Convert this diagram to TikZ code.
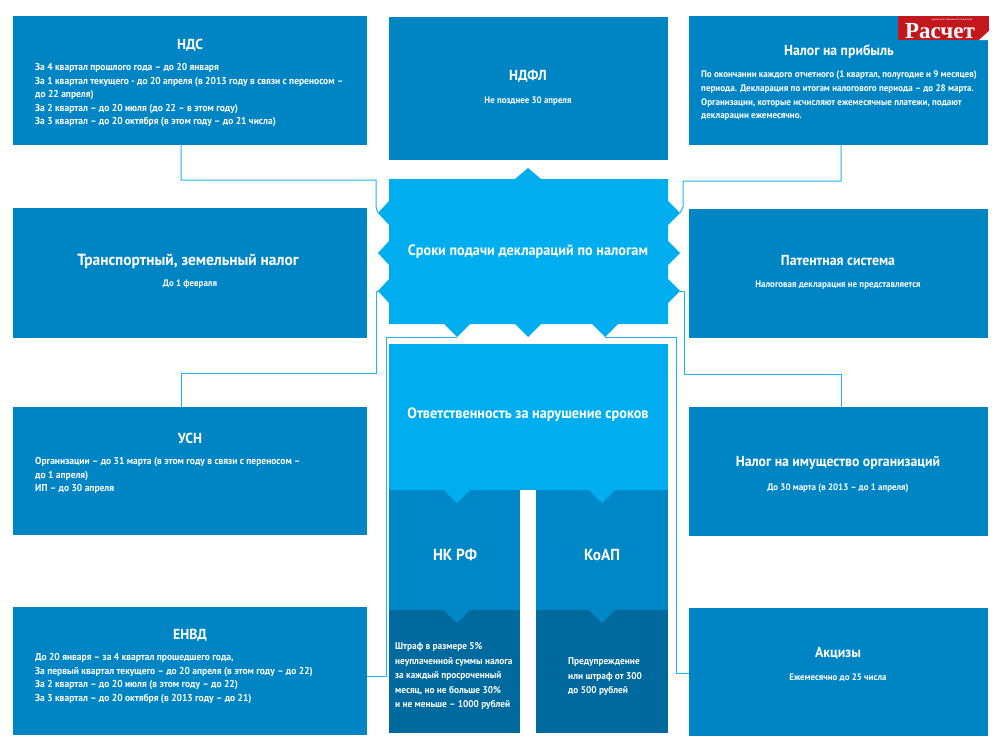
\documentclass[tikz,border=0pt]{standalone}
\usepackage{fontspec}
\setmainfont{PT Sans}[FakeStretch=0.95]
\newfontfamily\logofont{Liberation Serif}
\definecolor{boxblue}{HTML}{0085C4}
\definecolor{lightblue}{HTML}{00AEEF}
\definecolor{midblue}{HTML}{0087C7}
\definecolor{darkblue}{HTML}{00699D}
\definecolor{linkblue}{HTML}{1EB4EE}
\definecolor{logored}{HTML}{C3171E}
\begin{document}
\begin{tikzpicture}[x=1pt,y=-1pt,
  box/.style={fill=boxblue, draw=none, anchor=north west, inner sep=0pt, outer sep=0pt},
  ttl/.style={text=white, font=\bfseries\fontsize{14.5}{17}\selectfont, inner sep=0pt},
  bigttl/.style={text=white, font=\bfseries\fontsize{16}{18}\selectfont, inner sep=0pt},
  sub/.style={text=white, font=\bfseries\fontsize{9.4}{13}\selectfont, inner sep=0pt},
  body/.style={text=white, font=\bfseries\fontsize{10}{13.5}\selectfont, inner sep=0pt, align=left, anchor=north west},
  smallbody/.style={text=white, font=\bfseries\fontsize{9.8}{14.5}\selectfont, inner sep=0pt, align=left, anchor=north west},
  link/.style={draw=linkblue, line width=1pt},
]
\useasboundingbox (0,0) rectangle (1000,750);
\fill[white] (0,0) rectangle (1000,750);

% outer boxes
\node[box, minimum width=354pt, minimum height=129pt] (nds) at (13,16) {};
\node[box, minimum width=279pt, minimum height=143pt] (ndfl) at (389,17) {};
\node[box, minimum width=299pt, minimum height=129pt] (prib) at (689,16) {};
\node[box, minimum width=354pt, minimum height=130pt] (trans) at (13,208) {};
\node[box, minimum width=299pt, minimum height=129pt] (patent) at (689,209) {};
\node[box, minimum width=354pt, minimum height=128pt] (usn) at (13,407) {};
\node[box, minimum width=299pt, minimum height=129pt] (imush) at (689,407) {};
\node[box, minimum width=354pt, minimum height=128pt] (envd) at (13,607) {};
\node[box, minimum width=299pt, minimum height=128pt] (akc) at (689,608) {};

% tips of the central shape
\coordinate (cT) at (528,168);
\coordinate (cL1) at (378,213);
\coordinate (cL2) at (378,253);
\coordinate (cL3) at (378,291);
\coordinate (cR1) at (680,213);
\coordinate (cR2) at (680,253);
\coordinate (cR3) at (680,291);
\coordinate (cB1) at (457,337);
\coordinate (cB2) at (528,337);
\coordinate (cB3) at (605,337);

% connectors
\draw[link] ([xshift=-9pt]nds.south) |- (376,180) -- (376,207) -- (cL1);
\draw[link] ([xshift=2.5pt]prib.south) |- (683,181) -- (683,207) -- (cR1);
\draw[link] (cL3) -| (376,373) -| ([xshift=-9pt]usn.north);
\draw[link] (cR3) -| (684,374) -| ([xshift=3pt]imush.north);
\draw[link] (cB1) -| (386,676) -- (envd.east |- 0,676);
\draw[link] (cB3) -| (676,673) -- (akc.west |- 0,673);

% central shape
\fill[lightblue] (389,179) -- (515,179) -- (cT) -- (541,179) -- (668,179)
  -- (668,201) -- (cR1) -- (668,225) -- (668,241) -- (cR2) -- (668,265)
  -- (668,279) -- (cR3) -- (668,303) -- (668,324)
  -- (618,324) -- (cB3) -- (592,324) -- (541,324) -- (cB2) -- (515,324)
  -- (470,324) -- (cB1) -- (444,324) -- (389,324)
  -- (389,303) -- (cL3) -- (389,279) -- (389,265) -- (cL2) -- (389,241)
  -- (389,225) -- (cL1) -- (389,201) -- cycle;
\node[ttl, font=\bfseries\fontsize{15}{17}\selectfont] (ctr) at (528,252) {Сроки подачи деклараций по налогам};

% responsibility block
\node[box, fill=lightblue, minimum width=279pt, minimum height=146pt] (otv) at (389,344) {};
\node[box, fill=midblue, minimum width=131pt, minimum height=120pt] (nkU) at (389,490) {};
\node[box, fill=darkblue, minimum width=131pt, minimum height=123pt] (nkL) at (389,610) {};
\node[box, fill=midblue, minimum width=132pt, minimum height=120pt] (koU) at (536,490) {};
\node[box, fill=darkblue, minimum width=132pt, minimum height=123pt] (koL) at (536,610) {};
\fill[lightblue] (444,490) -- (457,503) -- (470,490) -- cycle;
\fill[lightblue] (589,490) -- (602,503) -- (615,490) -- cycle;
\fill[midblue] (444,610) -- (457,623) -- (470,610) -- cycle;
\fill[midblue] (589,610) -- (602,623) -- (615,610) -- cycle;
\node[ttl, font=\bfseries\fontsize{15}{17}\selectfont] (otvT) at (528,415) {Ответственность за нарушение сроков};
\node[bigttl] (nkT) at (455,555) {НК РФ};
\node[bigttl] (koT) at (602,555) {КоАП};
\node[smallbody] (nkB) at (395,642.5) {Штраф в размере 5\%\\неуплаченной суммы налога\\за каждый просроченный\\месяц, но не больше 30\%\\и не меньше – 1000 рублей};
\node[smallbody] (koB) at (568,657.5) {Предупреждение\\или штраф от 300\\до 500 рублей};

% texts
\node[ttl] (ndsT) at (190,45) {НДС};
\node[body] (ndsB) at (35,63.5) {За 4 квартал прошлого года – до 20 января\\За 1 квартал текущего - до 20 апреля (в 2013 году в связи с переносом –\\до 22 апреля)\\За 2 квартал – до 20 июля (до 22 – в этом году)\\За 3 квартал – до 20 октября (в этом году – до 21 числа)};

\node[ttl] (ndflT) at (528,76) {НДФЛ};
\node[sub] (ndflS) at (528,101) {Не позднее 30 апреля};

\node[ttl] (pribT) at (839,52) {Налог на прибыль};
\node[body, font=\bfseries\fontsize{9.5}{13.8}\selectfont] (pribB) at (701,70.5) {По окончании каждого отчетного (1 квартал, полугодие и 9 месяцев)\\периода. Декларация по итогам налогового периода – до 28 марта.\\Организации, которые исчисляют ежемесячные платежи, подают\\декларации ежемесячно.};

\node[ttl, font=\bfseries\fontsize{16.2}{18}\selectfont] (transT) at (188,261) {Транспортный, земельный налог};
\node[sub] (transS) at (190,284) {До 1 февраля};

\node[ttl] (patT) at (838,261) {Патентная система};
\node[sub] (patS) at (838,285) {Налоговая декларация не представляется};

\node[ttl] (usnT) at (190,438) {УСН};
\node[body] (usnB) at (35,457.5) {Организации – до 31 марта (в этом году в связи с переносом –\\до 1 апреля)\\ИП – до 30 апреля};

\node[ttl] (imT) at (838,463) {Налог на имущество организаций};
\node[sub] (imS) at (838,488) {До 30 марта (в 2013 – до 1 апреля)};

\node[ttl] (envdT) at (190,635) {ЕНВД};
\node[body] (envdB) at (35,653.5) {До 20 января – за 4 квартал прошедшего года,\\За первый квартал текущего – до 20 апреля (в этом году – до 22)\\За 2 квартал – до 20 июля (в этом году – до 22)\\За 3 квартал – до 20 октября (в 2013 году – до 21)};

\node[ttl] (akcT) at (838,653) {Акцизы};
\node[sub] (akcS) at (838,678) {Ежемесячно до 25 числа};

% logo
\node[box, fill=logored, minimum width=91pt, minimum height=24pt] (logo) at (898,16) {};
\fill[white] (979,40) -- (989,31) -- (989,40) -- cycle;
\node[text=white, font=\logofont\bfseries\fontsize{23}{23}\selectfont, inner sep=0pt] (logoT) at (940,31.5) {Расчет};
\node[text=white, font=\fontsize{2.6}{3}\selectfont, inner sep=0pt] (logoS) at (952,19.5) {журнал для современного бухгалтера};
\end{tikzpicture}
\end{document}
